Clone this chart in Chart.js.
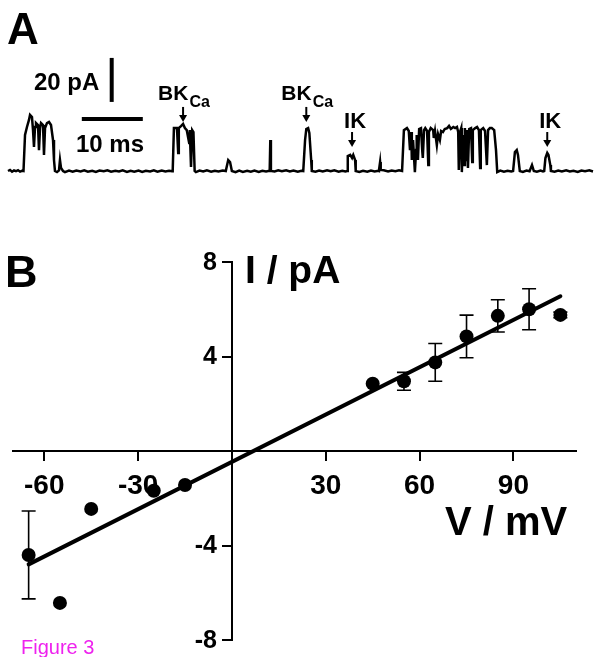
<!DOCTYPE html>
<html>
<head>
<meta charset="utf-8">
<script src="https://cdn.jsdelivr.net/npm/chart.js@4.4.1/dist/chart.umd.min.js"></script>
<style>
  body { margin: 0; background: #fff; }
  #fig { position: relative; width: 600px; height: 657px; overflow: hidden; background: #fff;
         font-family: 'Liberation Sans', Arial, Helvetica, sans-serif; color: #000; }
  .box { position: absolute; }
  .txt { position: absolute; white-space: nowrap; font-weight: bold; }
</style>
</head>
<body>
<div id="fig">
  <div class="box" style="left:0;top:40px;width:600px;height:150px"><canvas id="traceChart"></canvas></div>
  <div class="box" style="left:0;top:230px;width:600px;height:427px"><canvas id="ivChart"></canvas></div>

  <div class="txt" style="left:7px;top:7px;font-size:44px;line-height:44px">A</div>
  <div class="txt" style="left:5px;top:249px;font-size:45px;line-height:45px">B</div>
  <div class="txt" style="left:34px;top:70px;font-size:24px;line-height:24px">20 pA</div>
  <div class="txt" style="left:76px;top:132px;font-size:24px;line-height:24px">10 ms</div>
  <div class="txt" style="left:245px;top:250px;font-size:39px;line-height:39px">I / pA</div>
  <div class="txt" style="left:445px;top:501px;font-size:40px;line-height:40px">V / mV</div>
  <div class="txt" style="left:21px;top:637px;font-size:20px;line-height:20px;font-weight:normal;color:#ee22ee">Figure 3</div>
</div>

<script>
// ---- Panel A: single channel trace (time in ms, current in pA) ----
const tracePoints = [
  [0.0,0],[0.33,0.5],[0.66,-0.3],[0.98,0.3],[1.31,-0.1],[1.64,0.4],[1.97,-0.3],[2.3,0.1],[2.54,0],
  [2.79,16.4],[3.11,20.0],[3.44,23.2],[3.61,25.5],[3.93,24.5],[4.1,18.6],[4.26,10.9],[4.43,20.0],[4.59,21.8],
  [4.92,20.9],[5.08,9.5],[5.25,19.5],[5.41,21.8],[5.74,20.9],[5.9,7.3],[6.07,19.5],[6.39,21.8],[6.72,22.3],
  [7.05,20.9],[7.38,14.1],[7.54,5.0],[7.7,0],
  [8.03,-0.5],[8.36,0.3],[8.52,5.0],[8.69,1.4],[9.02,0],[9.34,-0.5],
  [10.0,0.2],[10.6,-0.3],[11.2,0.2],[11.9,-0.2],[12.5,0.3],[13.1,-0.3],[13.8,0.1],[14.4,-0.4],[15.0,0.2],
  [15.7,-0.1],[16.3,0.3],[16.9,-0.3],[17.6,0.1],[18.2,-0.2],[18.8,0.3],[19.5,-0.4],[20.1,0.1],[20.7,-0.3],
  [21.4,0.2],[22.0,-0.4],[22.6,0.1],[23.3,-0.2],[23.9,0.3],[24.5,-0.3],[25.2,0.2],[25.8,-0.2],[26.4,0.1],[26.9,-0.1],
  [27.0,0],[27.2,19.5],[27.7,19.5],[27.9,8.2],[28.0,19.5],[28.4,20.5],[28.7,21.4],[29.0,19.5],[29.3,18.6],
  [29.7,12.7],[29.8,18.6],[30.0,1.8],[30.2,18.6],[30.4,17.7],[30.6,0],
  [30.8,-0.5],[31.4,0.2],[32.0,-0.2],[32.6,0.3],[33.3,-0.3],[33.9,0.1],[34.5,-0.2],[35.2,0.2],
  [35.7,0],[36.1,5.0],[36.4,4.1],[36.7,0],
  [37.3,-0.5],[37.9,0.2],[38.5,-0.4],[39.2,0.1],[39.8,-0.3],[40.4,0.2],[41.1,-0.4],[41.7,0.1],[42.3,-0.2],[42.9,0.1],
  [43.0,14.1],[43.1,0],
  [43.7,-0.2],[44.3,0.3],[44.9,-0.1],[45.6,0.3],[46.2,-0.2],[46.8,0.2],[47.5,-0.3],[48.1,0.1],
  [48.4,0],[48.7,14.1],[48.9,19.1],[49.2,19.5],[49.4,17.3],[49.7,5.0],[49.8,0],
  [50.4,-0.3],[51.0,0.2],[51.6,-0.2],[52.3,0.3],[52.9,-0.1],[53.5,0.3],[54.2,-0.3],[54.8,0.1],[55.3,-0.2],
  [55.6,0],[55.7,6.8],[56.1,7.3],[56.4,5.9],[56.6,7.3],[56.9,5.0],[57.0,0],
  [57.6,-0.4],[58.2,0.1],[58.9,-0.3],[59.5,0.2],[60.1,-0.2],[60.7,0.1],
  [60.8,0],[61.0,4.1],[61.1,0.5],
  [61.6,0.3],[62.3,-0.2],[62.9,0.2],[63.5,-0.1],[64.1,0.3],
  [64.6,0],[64.9,18.6],[65.4,19.5],[65.7,18.2],[65.9,9.5],[66.1,17.7],[66.2,5.0],[66.4,14.1],[66.7,-0.5],
  [66.9,9.5],[67.0,16.4],[67.2,5.0],[67.4,19.1],[67.7,19.5],[67.9,9.5],[68.0,5.9],[68.2,18.6],[68.4,19.5],
  [68.7,18.2],[68.9,2.7],[69.0,17.7],[69.3,19.5],[69.7,18.6],[69.8,15.0],[70.0,18.2],[70.3,11.8],[70.5,16.8],
  [70.8,14.1],[71.0,18.2],[71.3,17.7],[71.6,19.1],[72.0,19.5],[72.3,20.5],[72.6,19.1],[73.0,20.0],[73.3,19.5],
  [73.6,20.0],[73.8,17.7],[73.9,0.5],[74.1,17.7],[74.3,19.5],[74.4,-0.5],[74.6,16.4],[74.8,2.7],[74.9,19.5],
  [75.1,5.0],[75.2,18.6],[75.4,1.4],[75.6,19.1],[75.9,19.5],[76.1,4.1],[76.2,18.6],[76.6,19.5],[76.9,20.0],
  [77.2,18.6],[77.4,1.4],[77.5,18.6],[77.9,19.5],[78.2,18.2],[78.5,2.7],[78.7,18.6],[79.0,19.5],[79.3,19.5],
  [79.7,18.6],[80.0,9.5],[80.2,-0.5],
  [80.7,0.2],[81.3,-0.3],[81.9,0.1],[82.5,-0.2],
  [82.8,0],[83.1,8.6],[83.4,9.5],[83.6,7.3],[83.9,0],
  [84.4,-0.4],[85.0,0.2],[85.5,-0.1],[85.9,2.7],[86.2,0],[86.7,-0.3],[87.3,0.2],[87.7,-0.2],
  [87.9,0],[88.1,5.9],[88.4,8.2],[88.6,7.3],[88.9,2.7],[89.0,0],
  [89.6,-0.3],[90.2,0.2],[90.8,-0.2],[91.5,0.3],[92.1,-0.2],[92.7,0.1],[93.4,-0.4],[94.0,0.2],[94.6,-0.1],
  [95.3,0.3],[95.9,-0.2]
];

// scale bars: 10 ms horizontal, 20 pA vertical
const scaleBarTime = [12.1, 22.1];
const scaleBarTimeLevel = 23.6;
const scaleBarCurrentAt = 17.0;
const scaleBarCurrent = [31.4, 51.4];

// channel labels with arrows
const annotTimes = [28.7, 48.9, 56.4, 88.4];
const annotLabels = ['BK', 'BK', 'IK', 'IK'];
const annotSubs = ['Ca', 'Ca', '', ''];
const annotLevels = [22.3, 22.3, 10.9, 10.9];

// ---- Panel B: I/V relation ----
const voltages = [-65, -55, -45, -25, -15, 45, 55, 65, 75, 85, 95, 105];
const currents = [-4.4, -6.43, -2.45, -1.68, -1.44, 2.85, 2.95, 3.75, 4.85, 5.72, 6.0, 5.76];
const errors = [1.86, 0, 0, 0, 0, 0, 0.38, 0.8, 0.9, 0.68, 0.87, 0.12];
const fitVoltages = [-65, 105];
const fitCurrents = [-4.8, 6.55];
const xTicks = [-60, -30, 0, 30, 60, 90];
const yTicks = [-8, -4, 0, 4, 8];

const FONT = "'Liberation Sans', Arial, Helvetica, sans-serif";

/**
 * Arrows and BKCa / IK labels above the trace
 */
const annotPlugin = {
  id: 'annot',
  afterDraw(chart) {
    const ctx = chart.ctx;
    const xs = chart.scales.x, ys = chart.scales.y;
    ctx.save();
    ctx.fillStyle = '#000';
    ctx.strokeStyle = '#000';
    annotTimes.forEach((t, i) => {
      const px = xs.getPixelForValue(t);
      const tip = ys.getPixelForValue(annotLevels[i]);
      // shaft
      ctx.lineWidth = 2;
      ctx.beginPath();
      ctx.moveTo(px, tip - 15);
      ctx.lineTo(px, tip - 5);
      ctx.stroke();
      // head
      ctx.beginPath();
      ctx.moveTo(px - 4, tip - 7);
      ctx.lineTo(px + 4, tip - 7);
      ctx.lineTo(px, tip);
      ctx.closePath();
      ctx.fill();
      // label
      ctx.textBaseline = 'alphabetic';
      if (annotSubs[i]) {
        ctx.font = 'bold 21px ' + FONT;
        ctx.textAlign = 'left';
        const left = px - 25;
        ctx.fillText(annotLabels[i], left, tip - 22);
        const w = ctx.measureText(annotLabels[i]).width;
        ctx.font = 'bold 16px ' + FONT;
        ctx.fillText(annotSubs[i], left + w + 1, tip - 15);
      } else {
        ctx.font = 'bold 22px ' + FONT;
        ctx.textAlign = 'center';
        ctx.fillText(annotLabels[i], px + 3, tip - 19);
      }
    });
    ctx.restore();
  }
};

/**
 * Error bars for the I/V points
 */
const errorBarPlugin = {
  id: 'errorBars',
  afterDatasetsDraw(chart) {
    const ctx = chart.ctx;
    const xs = chart.scales.x, ys = chart.scales.y;
    ctx.save();
    ctx.strokeStyle = '#000';
    ctx.lineWidth = 1.6;
    voltages.forEach((v, i) => {
      if (!errors[i]) return;
      const px = xs.getPixelForValue(v);
      const top = ys.getPixelForValue(currents[i] + errors[i]);
      const bot = ys.getPixelForValue(currents[i] - errors[i]);
      ctx.beginPath();
      ctx.moveTo(px, top); ctx.lineTo(px, bot);
      ctx.moveTo(px - 7, top); ctx.lineTo(px + 7, top);
      ctx.moveTo(px - 7, bot); ctx.lineTo(px + 7, bot);
      ctx.stroke();
    });
    ctx.restore();
  }
};

/**
 * Y tick labels to the left of the centred y axis
 * (Chart.js puts them on the axis line when the axis is positioned by value)
 */
const yLabelPlugin = {
  id: 'yLabels',
  afterDraw(chart) {
    const ctx = chart.ctx;
    const xs = chart.scales.x, ys = chart.scales.y;
    const axisX = xs.getPixelForValue(0);
    ctx.save();
    ctx.fillStyle = '#000';
    ctx.font = 'bold 25px ' + FONT;
    ctx.textAlign = 'right';
    ctx.textBaseline = 'middle';
    yTicks.forEach(v => {
      if (v === 0) return;
      ctx.fillText(String(v), axisX - 15, ys.getPixelForValue(v) + 1);
    });
    ctx.restore();
  }
};

// trace chart
new Chart(document.getElementById('traceChart'), {
  type: 'scatter',
  data: {
    datasets: [
      {
        data: tracePoints.map(p => ({ x: p[0], y: p[1] })),
        showLine: true,
        borderColor: '#000',
        borderWidth: 2.5,
        pointRadius: 0,
        tension: 0,
        clip: false
      },
      {
        data: scaleBarTime.map(t => ({ x: t, y: scaleBarTimeLevel })),
        showLine: true,
        borderColor: '#000',
        borderWidth: 4,
        pointRadius: 0,
        clip: false
      },
      {
        data: scaleBarCurrent.map(c => ({ x: scaleBarCurrentAt, y: c })),
        showLine: true,
        borderColor: '#000',
        borderWidth: 4,
        pointRadius: 0,
        clip: false
      }
    ]
  },
  options: {
    responsive: true,
    maintainAspectRatio: false,
    animation: false,
    events: [],
    layout: { padding: { left: 8, right: 7, top: 10, bottom: 5 } },
    plugins: { legend: { display: false }, tooltip: { enabled: false } },
    scales: {
      x: { type: 'linear', min: 0, max: 95.9, display: false },
      y: { type: 'linear', min: -6.36, max: 55.0, display: false }
    }
  },
  plugins: [annotPlugin]
});

// I/V chart
new Chart(document.getElementById('ivChart'), {
  type: 'scatter',
  data: {
    datasets: [
      {
        data: voltages.map((v, i) => ({ x: v, y: currents[i] })),
        pointRadius: 7,
        pointBackgroundColor: '#000',
        pointBorderColor: '#000',
        pointBorderWidth: 0,
        order: 0
      },
      {
        data: fitVoltages.map((v, i) => ({ x: v, y: fitCurrents[i] })),
        showLine: true,
        borderColor: '#000',
        borderWidth: 4,
        borderCapStyle: 'round',
        pointRadius: 0,
        order: 1
      }
    ]
  },
  options: {
    responsive: true,
    maintainAspectRatio: false,
    animation: false,
    events: [],
    layout: { padding: { left: 13, right: 24, top: 32, bottom: 17 } },
    plugins: { legend: { display: false }, tooltip: { enabled: false } },
    scales: {
      x: {
        type: 'linear',
        min: -70, max: 110,
        position: { y: 0 },
        afterFit(scale) { scale.height = 0; },
        afterBuildTicks(scale) { scale.ticks = xTicks.map(v => ({ value: v })); },
        border: { display: true, color: '#000', width: 2 },
        grid: { drawOnChartArea: false, drawTicks: true, tickLength: 9, color: '#000', lineWidth: 2 },
        ticks: {
          autoSkip: false, maxRotation: 0, padding: 9, color: '#000',
          font: { family: FONT, size: 28, weight: 'bold' },
          callback: v => (v === 0 ? '' : v)
        }
      },
      y: {
        type: 'linear',
        min: -8, max: 8,
        position: { x: 0 },
        afterFit(scale) { scale.width = 0; },
        afterBuildTicks(scale) { scale.ticks = yTicks.map(v => ({ value: v })); },
        border: { display: true, color: '#000', width: 2 },
        grid: { drawOnChartArea: false, drawTicks: true, tickLength: 9, color: '#000', lineWidth: 2 },
        ticks: { display: false }
      }
    }
  },
  plugins: [errorBarPlugin, yLabelPlugin]
});
</script>
</body>
</html>
